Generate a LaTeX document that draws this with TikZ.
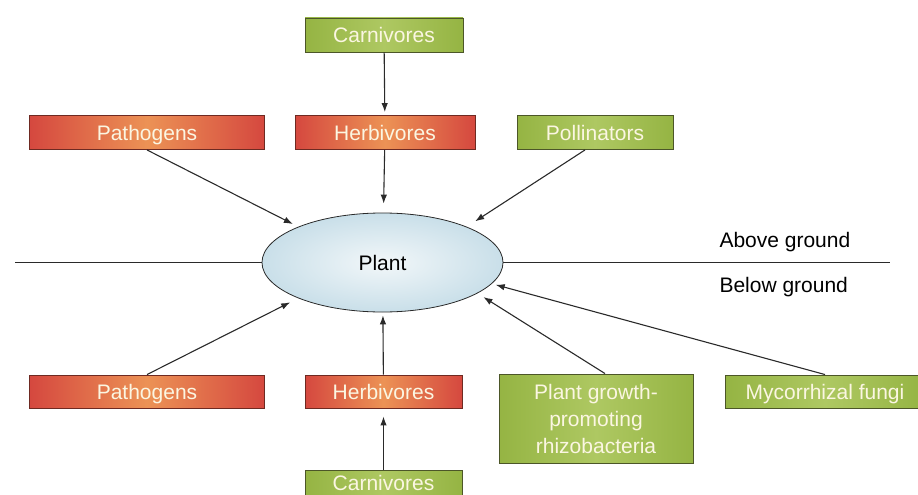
\documentclass[tikz,border=0pt]{standalone}
\usepackage{fontspec}
\setmainfont{Liberation Sans}
\usepackage{xcolor}
\usetikzlibrary{arrows.meta,positioning,shapes.geometric}
\definecolor{FoeRed}{HTML}{D5483F}
\definecolor{FoeGlow}{HTML}{EC9255}
\definecolor{FoeEdge}{HTML}{6E2A22}
\definecolor{FriendGreen}{HTML}{95B443}
\definecolor{FriendLight}{HTML}{AEC862}
\definecolor{FriendEdge}{HTML}{4C5628}
\definecolor{PlantIn}{HTML}{F2F7F9}
\definecolor{PlantOut}{HTML}{C9DFE9}
\definecolor{LinkGrey}{HTML}{2A2A2A}
\definecolor{BoxText}{HTML}{FBF6E2}

\begin{document}
\begin{tikzpicture}[x=1pt,y=-1pt,>={Latex[length=9pt,width=6.5pt]}]
  \tikzset{foe/.style={draw=FoeEdge,left color=FoeRed,right color=FoeRed,middle color=FoeGlow,
    line width=0.9pt,minimum height=34pt,inner sep=0pt,text=BoxText,
    text height=15pt,text depth=0pt,font=\fontsize{21}{25}\selectfont},
    friend/.style={draw=FriendEdge,left color=FriendGreen,right color=FriendGreen,middle color=FriendLight,
    line width=0.9pt,minimum height=34pt,inner sep=0pt,text=BoxText,align=center,
    text height=15pt,text depth=0pt,font=\fontsize{21}{27}\selectfont},
    link/.style={->,LinkGrey,line width=1.1pt,shorten >=6pt}}
  \useasboundingbox (0,0) rectangle (918,495);
  \node[draw=LinkGrey,ellipse,inner color=PlantIn,outer color=PlantOut,line width=0.8pt,
    minimum width=241pt,minimum height=99pt,inner sep=0pt,
    font=\fontsize{21}{25}\selectfont] (plant) at (382.5,262.5) {Plant};
  % above ground
  \node[friend,minimum width=158pt] (carnt) at (384,35) {Carnivores};
  \node[foe,minimum width=180pt] (herbt) at (385,132.5) {Herbivores};
  \node[foe,minimum width=235pt] (patht) at (147,132.5) {Pathogens};
  \node[friend,minimum width=156pt] (poll) at (595,132.5) {Pollinators};
  % below ground
  \node[foe,minimum width=235pt,minimum height=33pt] (pathb) at (147,391.5) {Pathogens};
  \node[foe,minimum width=157pt,minimum height=33pt] (herbb) at (383.5,391.5) {Herbivores};
  \node[friend,minimum width=157pt,minimum height=30pt,text depth=5pt] (carnb) at (383.5,485) {Carnivores};
  \node[friend,minimum width=194pt,minimum height=89pt,text height={},text depth={}] (pgpr) at (596,418.5)
    {Plant growth-\\promoting\\rhizobacteria};
  \node[friend,minimum width=200pt,minimum height=33pt] (myco) at (825,391.5) {Mycorrhizal fungi};
  % ground line
  \coordinate (gl) at (15,262.5);
  \coordinate (gr) at (890,262.5);
  \draw[LinkGrey,line width=1.1pt] (gl) -- (plant.west);
  \draw[LinkGrey,line width=1.1pt] (plant.east) -- (gr);
  \node[anchor=west,font=\fontsize{21}{25}\selectfont] (above) at (716,242) {Above ground};
  \node[anchor=west,font=\fontsize{21}{25}\selectfont] (below) at (716,287) {Below ground};
  % links
  \draw[link,shorten >=3pt] (carnt) -- (herbt);
  \draw[link,shorten >=9pt] (herbt) -- (plant);
  \draw[link] (patht.south) -- (plant.157);
  \draw[link,shorten >=10pt] ([xshift=-10pt]poll.south) -- (plant.23);
  \draw[link,shorten >=9pt] (pathb.north) -- (plant.203);
  \draw[link,shorten >=3pt] (herbb) -- (plant);
  \draw[link,shorten >=8pt] (carnb) -- (herbb);
  \draw[link,shorten >=7pt] ([xshift=9pt]pgpr.north) -- (plant.-18);
  \draw[link,shorten >=4pt] (myco.north) -- (plant.-11);
\end{tikzpicture}
\end{document}
